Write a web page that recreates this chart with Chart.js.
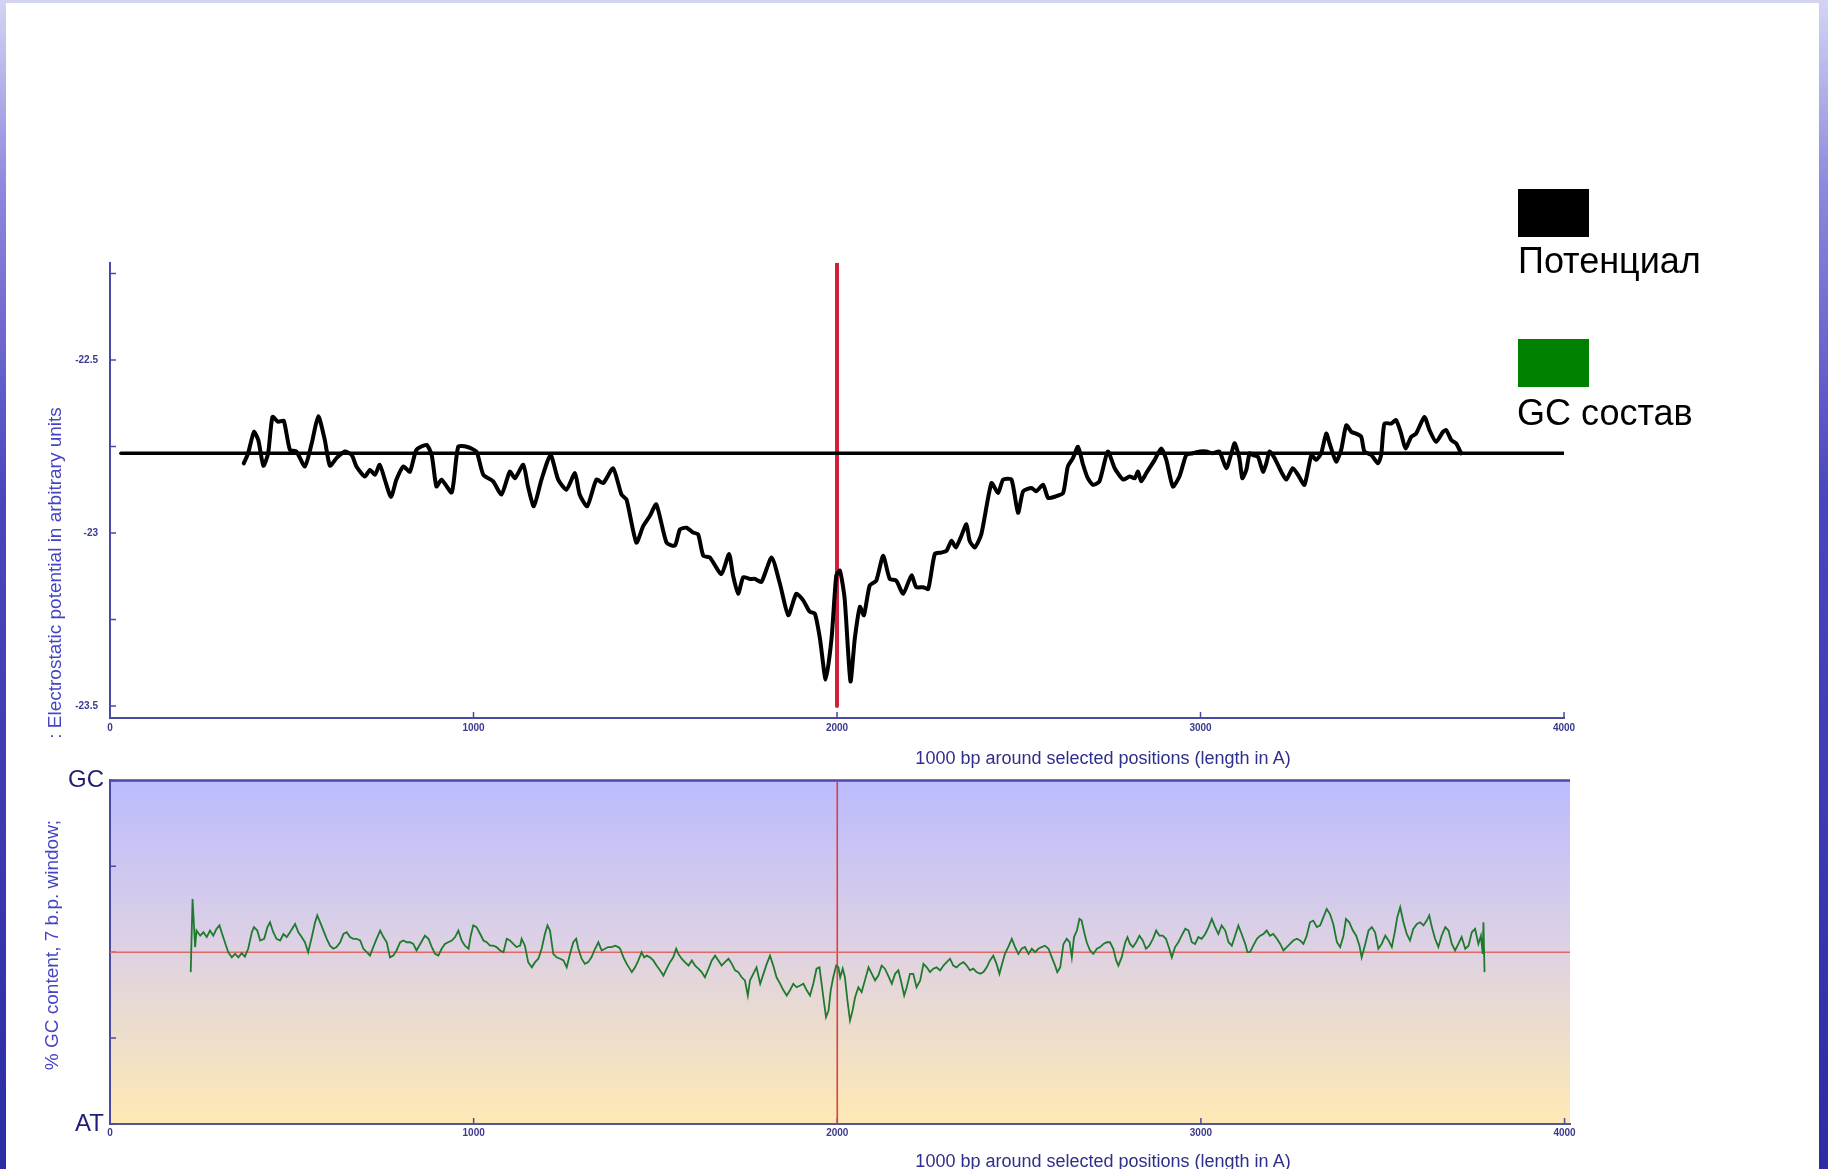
<!DOCTYPE html>
<html>
<head>
<meta charset="utf-8">
<script src="https://cdn.jsdelivr.net/npm/chart.js@4.4.1/dist/chart.umd.min.js"></script>
<style>
  html, body { margin: 0; padding: 0; }
  body {
    width: 1828px; height: 1169px; overflow: hidden; position: relative;
    background: linear-gradient(to bottom, #d3d4f3 0%, #8e88de 16%, #4c46be 42%, #2c2ca4 100%);
    font-family: "Liberation Sans", Arial, sans-serif;
  }
  #sheet { position: absolute; left: 6px; top: 3px; width: 1813px; height: 1166px; background: #ffffff; }
  canvas { position: absolute; left: 0; }
  #potentialChart { top: 0; }
  #gcChart { top: 760px; }
  .txt { position: absolute; white-space: nowrap; }
  .xTitle { font-size: 18px; color: #2e2e8c; transform: translate(-50%, -50%); }
  .yTitle { font-size: 19px; color: #4444c4; transform: translate(-50%, -50%) rotate(-90deg); }
  .swatch { position: absolute; width: 71px; height: 48px; }
  .legendText { font-size: 36px; line-height: 36px; color: #000; }
</style>
</head>
<body>
<div id="sheet"></div>
<canvas id="potentialChart" width="1828" height="760"></canvas>
<canvas id="gcChart" width="1828" height="409"></canvas>

<div class="txt yTitle" style="left:55px; top:573px;">: Electrostatic potential in arbitrary units</div>
<div class="txt xTitle" style="left:1103px; top:758px;">1000 bp around selected positions (length in A)</div>
<div class="txt yTitle" style="left:52px; top:945px;">% GC content, 7 b.p. window;</div>
<div class="txt xTitle" style="left:1103px; top:1161px;">1000 bp around selected positions (length in A)</div>

<div class="swatch" style="left:1518px; top:189px; background:#000000;"></div>
<div class="txt legendText" style="left:1518px; top:243px;">Потенциал</div>
<div class="swatch" style="left:1518px; top:339px; background:#008000;"></div>
<div class="txt legendText" style="left:1517px; top:395px;">GC состав</div>

<script>
// ---- data ----
const centerPosition = 2000;
const xTickValues = [0, 1000, 2000, 3000, 4000];
const potentialTickValues = [-22.25, -22.5, -22.75, -23, -23.25, -23.5];
const potentialTickLabels = ['', '-22.5', '', '-23', '', '-23.5'];
const gcTickValues = [0, 25, 50, 75, 100];
const gcTickLabels = ['AT', '', '', '', 'GC'];
const potentialMean = -22.77;
const meanLineSpan = [30, 4000];
const markerSpan = [-23.5, -22.22];
const gcMid = 50;
const gcMidSpan = [0, 4015];
const gcMarkerSpan = [0, 100];

// electrostatic potential along the sequence (position, potential)
const potentialX = [368,380,396,408,422,435,447,463,478,495,513,536,555,573,591,605,623,646,665,678,
  701,715,729,742,756,773,788,807,825,843,871,885,898,912,940,958,981,1008,1027,1054,
  1077,1100,1114,1137,1150,1166,1187,1212,1233,1256,1279,1292,1313,1338,1357,1384,1407,1421,1448,1467,
  1485,1503,1531,1554,1568,1586,1604,1618,1632,1650,1682,1703,1714,1728,1742,1760,1774,1792,1820,1843,
  1866,1888,1907,1925,1939,1953,1969,1985,1998,2008,2021,2037,2049,2063,2074,2090,2108,2127,2145,2163,
  2182,2205,2218,2237,2251,2269,2287,2301,2315,2327,2342,2356,2365,2379,2397,2425,2443,2457,2480,2498,
  2512,2535,2548,2567,2581,2603,2622,2635,2649,2663,2677,2690,2704,2722,2745,2764,2787,2805,2819,2828,
  2837,2851,2874,2892,2906,2924,2942,2952,2961,2979,2998,3016,3034,3052,3071,3085,3094,3107,3115,3126,
  3135,3144,3158,3172,3181,3190,3204,3222,3236,3254,3268,3286,3305,3318,3332,3346,3355,3373,3387,3401,
  3415,3428,3442,3451,3470,3488,3497,3506,3525,3538,3552,3564,3580,3593,3616,3630,3648,3667,3676,3690,
  3703,3717];
const potentialY = [-22.799,-22.770,-22.708,-22.732,-22.806,-22.770,-22.665,-22.679,-22.676,-22.760,-22.765,-22.808,-22.741,-22.663,-22.732,-22.806,-22.784,-22.765,-22.775,-22.808,
  -22.837,-22.818,-22.832,-22.803,-22.846,-22.896,-22.846,-22.808,-22.823,-22.760,-22.746,-22.775,-22.866,-22.846,-22.883,-22.751,-22.751,-22.765,-22.832,-22.851,
  -22.889,-22.823,-22.842,-22.803,-22.866,-22.923,-22.846,-22.775,-22.846,-22.875,-22.827,-22.889,-22.923,-22.846,-22.856,-22.813,-22.889,-22.904,-23.028,-22.980,
  -22.951,-22.918,-23.028,-23.037,-22.990,-22.985,-22.999,-23.004,-23.066,-23.071,-23.119,-23.061,-23.123,-23.176,-23.128,-23.133,-23.133,-23.142,-23.071,-23.147,
  -23.238,-23.176,-23.195,-23.228,-23.233,-23.305,-23.424,-23.305,-23.123,-23.109,-23.190,-23.429,-23.305,-23.214,-23.238,-23.152,-23.138,-23.066,-23.133,-23.138,
  -23.176,-23.123,-23.157,-23.157,-23.162,-23.061,-23.057,-23.052,-23.023,-23.042,-23.009,-22.975,-23.023,-23.042,-23.004,-22.856,-22.885,-22.846,-22.846,-22.942,
  -22.880,-22.870,-22.880,-22.861,-22.899,-22.894,-22.885,-22.808,-22.784,-22.751,-22.803,-22.842,-22.861,-22.851,-22.765,-22.813,-22.846,-22.837,-22.842,-22.823,
  -22.851,-22.827,-22.789,-22.756,-22.789,-22.866,-22.837,-22.803,-22.775,-22.770,-22.765,-22.765,-22.770,-22.765,-22.813,-22.770,-22.741,-22.784,-22.842,-22.818,
  -22.770,-22.775,-22.780,-22.823,-22.799,-22.765,-22.784,-22.823,-22.846,-22.813,-22.832,-22.861,-22.775,-22.789,-22.770,-22.713,-22.741,-22.794,-22.760,-22.689,
  -22.708,-22.713,-22.722,-22.765,-22.775,-22.799,-22.775,-22.684,-22.684,-22.674,-22.713,-22.756,-22.722,-22.713,-22.665,-22.703,-22.737,-22.708,-22.703,-22.732,
  -22.741,-22.770];

// GC content in a 7 b.p. window, percent (0 = AT, 100 = GC)
const gcX = [222,227,234,238,248,257,266,275,284,293,301,307,316,325,335,344,353,362,371,380,
  390,396,405,413,424,433,440,449,458,468,477,486,495,509,518,527,536,545,555,564,
  570,578,587,596,605,614,623,633,642,651,660,669,678,688,697,706,715,724,733,743,
  752,761,770,779,788,798,807,816,825,834,843,853,866,876,885,894,903,912,921,930,
  940,949,958,967,976,986,992,999,1008,1018,1027,1036,1045,1054,1063,1073,1082,1091,1100,1109,
  1118,1128,1132,1141,1150,1160,1169,1178,1187,1196,1203,1210,1219,1228,1238,1247,1256,1265,1274,1282,
  1288,1297,1306,1315,1324,1334,1343,1352,1361,1370,1380,1389,1398,1403,1412,1421,1435,1444,1453,1462,
  1469,1476,1485,1494,1503,1513,1522,1531,1540,1549,1557,1563,1572,1581,1591,1600,1609,1618,1627,1636,
  1646,1655,1664,1673,1682,1691,1701,1710,1719,1728,1737,1746,1754,1760,1769,1778,1788,1797,1806,1815,
  1824,1833,1843,1852,1861,1870,1879,1888,1898,1907,1916,1925,1934,1943,1951,1957,1964,1969,1976,1982,
  1989,1997,2003,2008,2015,2021,2028,2035,2042,2049,2058,2067,2076,2086,2095,2104,2113,2122,2131,2140,
  2150,2159,2168,2177,2184,2191,2200,2209,2218,2228,2237,2246,2255,2264,2273,2283,2292,2301,2310,2319,
  2328,2338,2347,2356,2365,2374,2383,2393,2402,2411,2420,2429,2438,2446,2452,2461,2470,2480,2489,2498,
  2507,2516,2526,2535,2544,2553,2562,2571,2581,2590,2599,2605,2613,2622,2631,2639,2645,2651,2659,2666,
  2672,2679,2686,2695,2704,2714,2723,2732,2741,2750,2759,2767,2773,2782,2792,2798,2805,2813,2822,2831,
  2840,2849,2858,2868,2877,2886,2895,2904,2913,2920,2929,2938,2947,2957,2966,2975,2984,2993,3002,3012,
  3021,3030,3039,3048,3057,3067,3076,3085,3094,3103,3112,3122,3128,3135,3144,3154,3163,3172,3181,3190,
  3199,3209,3218,3227,3236,3245,3254,3264,3273,3282,3291,3300,3309,3319,3328,3337,3346,3355,3364,3374,
  3383,3392,3399,3408,3418,3427,3436,3442,3452,3461,3470,3479,3488,3497,3507,3516,3525,3534,3540,3548,
  3557,3566,3575,3584,3594,3603,3612,3621,3628,3635,3644,3653,3662,3672,3681,3690,3699,3708,3717,3727,
  3736,3745,3754,3763,3770,3775,3777,3780];
const gcY = [44.2,65.5,51.5,56.3,54.8,55.8,54.4,56.3,54.8,56.8,57.8,55.8,52.9,50.0,48.5,49.5,48.5,49.7,48.7,51.0,
  55.8,57.3,56.3,53.4,53.9,57.3,58.7,55.8,53.9,53.4,55.3,54.4,55.8,58.2,55.8,54.4,52.9,50.0,54.4,58.7,
  60.7,58.7,56.3,53.9,51.9,51.0,51.5,52.9,55.3,55.8,54.4,53.9,53.9,53.4,51.0,50.0,49.0,51.5,53.9,56.3,
  54.4,52.9,48.5,49.0,50.5,52.9,53.4,52.9,52.9,52.4,50.5,52.4,54.8,53.9,51.5,49.5,49.0,51.0,52.4,52.9,
  53.4,54.4,56.3,53.4,51.9,51.0,54.8,57.8,57.3,55.3,53.4,52.9,51.9,51.9,51.5,50.5,50.0,53.9,53.4,52.4,
  51.5,51.9,53.9,51.9,47.1,45.6,47.1,48.1,51.0,55.3,57.8,56.3,49.5,48.5,48.1,47.6,45.6,49.5,52.9,53.9,
  51.0,48.1,46.6,47.1,48.5,51.0,52.9,50.5,51.0,51.5,51.5,51.9,51.5,51.0,48.5,46.6,44.2,45.6,47.6,50.0,
  48.5,49.0,48.5,47.6,46.1,44.7,43.2,45.2,47.1,48.5,51.0,49.5,48.1,47.1,46.1,47.6,46.1,45.2,44.2,42.7,
  45.2,47.6,49.0,47.6,46.1,47.1,48.1,46.6,44.7,44.2,42.7,41.8,37.4,41.8,43.7,45.6,40.8,43.7,46.6,49.0,
  46.1,42.7,40.8,38.9,37.4,38.9,40.8,39.8,40.3,40.8,38.9,37.4,40.8,45.2,45.6,40.8,35.0,31.1,33.0,38.9,
  42.7,46.1,45.6,42.7,45.2,42.7,35.9,30.1,33.0,36.9,39.8,38.4,41.8,45.6,43.7,41.8,43.2,46.1,45.2,43.2,
  40.8,43.7,44.7,40.8,37.4,39.8,43.7,43.7,39.8,41.8,46.6,45.6,44.2,45.2,45.6,44.7,46.1,47.1,48.1,46.1,
  45.6,46.6,47.1,46.1,44.7,45.2,44.2,43.7,44.2,45.6,47.6,49.0,46.6,43.7,46.1,49.5,51.5,53.9,51.5,49.5,
  51.0,51.5,49.5,51.0,50.0,51.0,51.5,51.9,51.0,48.5,46.1,44.2,45.6,52.4,53.9,52.9,48.5,54.4,56.3,59.7,
  59.2,55.8,52.9,50.5,49.5,51.0,51.5,52.4,52.9,52.9,51.0,47.6,46.1,48.5,52.9,54.4,52.4,51.5,52.9,54.8,
  53.4,51.0,51.9,53.9,56.3,54.8,54.8,53.9,51.0,48.5,51.5,52.9,54.8,56.8,56.3,52.9,52.4,54.4,53.9,55.3,
  57.3,59.7,57.3,55.3,57.8,56.3,52.9,51.9,54.8,57.8,55.3,52.4,50.0,50.0,51.9,53.9,54.8,55.3,56.3,54.8,
  55.3,53.9,52.4,50.5,51.5,52.4,53.4,53.9,53.4,52.4,54.8,58.7,59.2,57.3,57.8,60.2,62.6,61.1,58.2,52.9,
  51.5,54.8,59.7,58.7,56.3,54.8,51.9,48.5,52.4,56.3,57.3,55.8,51.0,52.4,54.8,53.4,51.5,56.3,60.2,63.1,
  58.7,55.3,53.4,56.8,58.2,58.7,57.8,59.2,60.7,57.3,53.9,51.5,54.8,57.3,56.3,52.4,50.5,52.4,54.4,51.0,
  51.9,55.8,56.8,52.4,54.8,49.5,58.7,44.2];

// ---- helpers ----
const FONT = "'Liberation Sans', Arial, sans-serif";
const AXIS_BLUE = '#4a4aa6';
const points = (xs, ys) => xs.map((x, i) => ({ x, y: ys[i] }));
const fixedTicks = values => scale => { scale.ticks = values.map(v => ({ value: v })); };

// tick marks pointing into the plot, plus an optional frame line along the top edge
const innerTicks = {
  id: 'innerTicks',
  beforeDatasetsDraw(chart, args, opts) {
    const { ctx, chartArea: a, scales: { x, y } } = chart;
    ctx.save();
    ctx.strokeStyle = opts.color;
    ctx.lineWidth = 1.5;
    ctx.beginPath();
    x.ticks.forEach(t => {
      const px = x.getPixelForValue(t.value);
      ctx.moveTo(px, a.bottom); ctx.lineTo(px, a.bottom - opts.len);
    });
    y.ticks.forEach(t => {
      const py = y.getPixelForValue(t.value);
      ctx.moveTo(a.left, py); ctx.lineTo(a.left + opts.len, py);
    });
    ctx.stroke();
    if (opts.topFrame) {
      ctx.lineWidth = 2.5;
      ctx.beginPath();
      ctx.moveTo(a.left, a.top); ctx.lineTo(a.right, a.top);
      ctx.stroke();
    }
    ctx.restore();
  }
};

// lavender-to-cream wash behind the GC plot
const plotWash = {
  id: 'plotWash',
  beforeDraw(chart, args, opts) {
    if (!opts.enabled) return;
    const { ctx, chartArea: a } = chart;
    const g = ctx.createLinearGradient(0, a.top, 0, a.bottom);
    g.addColorStop(0, '#bbbbfe');
    g.addColorStop(0.45, '#dbd0e6');
    g.addColorStop(1, '#fee9b4');
    ctx.save();
    ctx.fillStyle = g;
    ctx.fillRect(a.left, a.top, a.right - a.left, a.bottom - a.top);
    ctx.restore();
  }
};

Chart.defaults.font.family = FONT;

const smallTickFont = { family: FONT, size: 10, weight: 'bold' };

// ---- electrostatic potential ----
new Chart(document.getElementById('potentialChart'), {
  type: 'line',
  data: {
    datasets: [
      { data: points(potentialX, potentialY), borderColor: '#000000', borderWidth: 4, tension: 0.2, order: 1 },
      { data: [{ x: meanLineSpan[0], y: potentialMean }, { x: meanLineSpan[1], y: potentialMean }],
        borderColor: '#000000', borderWidth: 3.5, order: 2 },
      { data: [{ x: centerPosition, y: markerSpan[0] }, { x: centerPosition, y: markerSpan[1] }],
        borderColor: '#d2203a', borderWidth: 4, order: 3 }
    ]
  },
  options: {
    responsive: false,
    animation: false,
    elements: { point: { radius: 0 }, line: { tension: 0, borderCapStyle: 'round', borderJoinStyle: 'round' } },
    layout: { padding: { left: 0, top: 263, right: 264, bottom: 0 } },
    plugins: {
      legend: { display: false }, tooltip: { enabled: false },
      innerTicks: { color: AXIS_BLUE, len: 6, topFrame: false },
      plotWash: { enabled: false }
    },
    scales: {
      x: {
        type: 'linear', min: 0, max: 4000,
        afterBuildTicks: fixedTicks(xTickValues),
        afterFit: s => { s.height = 42; },
        grid: { display: false, drawTicks: false },
        border: { display: true, color: AXIS_BLUE, width: 2 },
        ticks: { font: smallTickFont, color: '#3a3a8e', padding: 4, maxRotation: 0, autoSkip: false,
                 callback: v => String(v) }
      },
      y: {
        type: 'linear', min: -23.535, max: -22.22,
        afterBuildTicks: fixedTicks(potentialTickValues),
        afterFit: s => { s.width = 110; },
        grid: { display: false, drawTicks: false },
        border: { display: true, color: AXIS_BLUE, width: 2 },
        ticks: { font: smallTickFont, color: '#3a3a8e', padding: 12, autoSkip: false,
                 callback: (v, i) => potentialTickLabels[i] }
      }
    }
  },
  plugins: [innerTicks, plotWash]
});

// ---- GC content ----
new Chart(document.getElementById('gcChart'), {
  type: 'line',
  data: {
    datasets: [
      { data: points(gcX, gcY), borderColor: '#1f7a2d', borderWidth: 1.8, order: 1 },
      { data: [{ x: gcMidSpan[0], y: gcMid }, { x: gcMidSpan[1], y: gcMid }],
        borderColor: '#e26868', borderWidth: 1.5, order: 2 },
      { data: [{ x: centerPosition, y: gcMarkerSpan[0] }, { x: centerPosition, y: gcMarkerSpan[1] }],
        borderColor: '#d94040', borderWidth: 1.6, order: 3 }
    ]
  },
  options: {
    responsive: false,
    animation: false,
    elements: { point: { radius: 0 }, line: { tension: 0 } },
    layout: { padding: { left: 0, top: 20, right: 258, bottom: 0 } },
    plugins: {
      legend: { display: false }, tooltip: { enabled: false },
      innerTicks: { color: AXIS_BLUE, len: 6, topFrame: true },
      plotWash: { enabled: true }
    },
    scales: {
      x: {
        type: 'linear', min: 0, max: 4015,
        afterBuildTicks: fixedTicks(xTickValues),
        afterFit: s => { s.height = 45; },
        grid: { display: false, drawTicks: false },
        border: { display: true, color: '#55558f', width: 2 },
        ticks: { font: smallTickFont, color: '#3a3a8e', padding: 3, maxRotation: 0, autoSkip: false,
                 callback: v => String(v) }
      },
      y: {
        type: 'linear', min: 0, max: 100,
        afterBuildTicks: fixedTicks(gcTickValues),
        afterFit: s => { s.width = 110; },
        grid: { display: false, drawTicks: false },
        border: { display: true, color: AXIS_BLUE, width: 2 },
        ticks: { font: { family: FONT, size: 24 }, color: '#1e1e78', padding: 6, autoSkip: false,
                 callback: (v, i) => gcTickLabels[i] }
      }
    }
  },
  plugins: [innerTicks, plotWash]
});
</script>
</body>
</html>
